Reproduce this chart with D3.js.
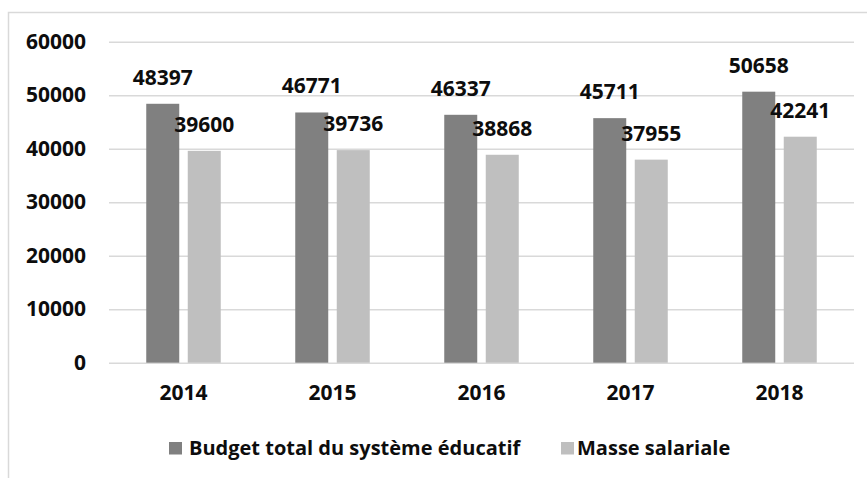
<!DOCTYPE html>
<html>
<head>
<meta charset="utf-8">
<script src="https://cdn.jsdelivr.net/npm/d3@7"></script>
<style>
  body { margin: 0; background: #fff; }
  text { font-family: "Open Sans", sans-serif; font-weight: bold; fill: #0d0d0d; }
</style>
</head>
<body>
<div id="chart"></div>
<script>
// data
const years = ['2014', '2015', '2016', '2017', '2018']
const budget = [48397, 46771, 46337, 45711, 50658]
const masse = [39600, 39736, 38868, 37955, 42241]
const seriesNames = ['Budget total du système éducatif', 'Masse salariale']
const seriesColors = ['#808080', '#bfbfbf']
const yTicks = [0, 10000, 20000, 30000, 40000, 50000, 60000]

const W = 867, H = 478
const svg = d3.select('#chart').append('svg')
    .attr('width', W)
    .attr('height', H)

// frame (right and bottom edges fall outside the picture)
svg.append('rect')
    .attr('x', 8.5).attr('y', 12.5)
    .attr('width', 900).attr('height', 500)
    .attr('fill', 'none')
    .attr('stroke', '#d9d9d9')
    .attr('stroke-width', 1.5)

const xScale = d3.scaleBand().domain(years).range([109, 854])
    .paddingInner(0.5).paddingOuter(0.25)
const xInner = d3.scaleBand().domain([0, 1]).range([0, xScale.bandwidth()])
    .paddingInner(0.205)
const yScale = d3.scaleLinear().domain([0, 60000]).range([362.7, 41.7])

// y axis with gridlines
const yAxis = svg.append('g')
    .attr('transform', 'translate(109,0)')
    .call(d3.axisLeft(yScale).tickValues(yTicks).tickSize(-(854 - 109)).tickPadding(23).tickFormat(d3.format('d')))
yAxis.select('.domain').remove()
yAxis.selectAll('line').attr('stroke', '#d9d9d9').attr('stroke-width', 1.5)
yAxis.selectAll('text').style('font-size', '21px').attr('fill', '#0d0d0d')
    .attr('font-family', null)

// x axis labels
const xAxis = svg.append('g')
    .attr('transform', 'translate(0,' + yScale(0) + ')')
    .call(d3.axisBottom(xScale).tickSize(0))
xAxis.select('.domain').remove()
xAxis.selectAll('text').style('font-size', '21px').attr('y', 37.5).attr('dy', 0)
    .attr('font-family', null).attr('fill', '#0d0d0d')

// bars
const series = [budget, masse]
series.forEach((vals, s) => {
    const g = svg.append('g')
    g.selectAll('rect')
        .data(vals)
        .enter().append('rect')
        .attr('x', (d, i) => xScale(years[i]) + xInner(s))
        .attr('width', xInner.bandwidth())
        .attr('y', d => yScale(d))
        .attr('height', d => yScale(0) - yScale(d))
        .attr('fill', seriesColors[s])
    g.selectAll('text')
        .data(vals)
        .enter().append('text')
        .attr('x', (d, i) => xScale(years[i]) + xInner(s) + xInner.bandwidth() / 2)
        .attr('y', d => yScale(d) - 19)
        .attr('text-anchor', 'middle')
        .style('font-size', '21px')
        .text(d => d)
})

// legend
const legendX = [169, 561]
const legend = svg.append('g')
seriesNames.forEach((name, s) => {
    legend.append('rect')
        .attr('x', legendX[s]).attr('y', 442)
        .attr('width', 13).attr('height', 12.5)
        .attr('fill', seriesColors[s])
    legend.append('text')
        .attr('x', legendX[s] + 18 + (s == 1 ? -2 : 2))
        .attr('y', 454.5)
        .style('font-size', '20px')
        .text(name)
})
</script>
</body>
</html>
